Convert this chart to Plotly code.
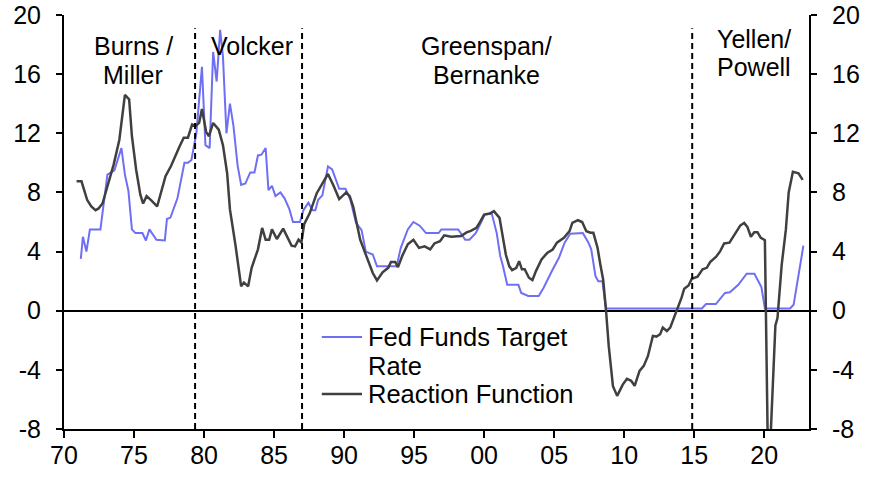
import plotly.graph_objects as go

# Fed funds target rate (decimal years)
ff_year = [1971.2, 1971.35, 1971.6, 1971.85, 1972.6, 1973.1, 1973.6, 1974.1, 1974.35, 1974.6,
           1974.85, 1975.1, 1975.6, 1975.85, 1976.1, 1976.6, 1977.2, 1977.35, 1977.6, 1978.1,
           1978.6, 1978.85, 1979.1, 1979.45, 1979.85, 1980.1, 1980.4, 1980.65, 1980.9, 1981.15,
           1981.35, 1981.6, 1981.85, 1982.1, 1982.4, 1982.65, 1982.95, 1983.3, 1983.6, 1983.85,
           1984.1, 1984.4, 1984.6, 1984.85, 1985.1, 1985.45, 1985.75, 1986.1, 1986.35, 1986.85,
           1987.1, 1987.45, 1987.75, 1987.95, 1988.15, 1988.45, 1988.85, 1989.15, 1989.65, 1990.1,
           1990.45, 1990.85, 1991.25, 1991.55, 1992.05, 1992.35, 1993.75, 1994.05, 1994.55, 1994.95,
           1995.4, 1995.85, 1996.75, 1996.95, 1998.15, 1998.65, 1998.95, 1999.4, 1999.85, 2000.05,
           2000.55, 2000.9, 2001.15, 2001.35, 2001.65, 2002.45, 2002.65, 2003.15, 2003.9, 2004.25,
           2004.85, 2005.35, 2005.75, 2006.15, 2007.05, 2007.45, 2007.65, 2007.95, 2008.15, 2008.45,
           2008.7, 2015.55, 2015.85, 2016.55, 2017.2, 2017.55, 2018.15, 2018.75, 2019.3, 2019.65,
           2019.8, 2020.05, 2021.85, 2022.1, 2022.8]
ff_rate = [3.5, 5.0, 4.0, 5.5, 5.5, 9.2, 9.5, 11.0, 9.2, 8.1,
           5.5, 5.25, 5.25, 4.75, 5.5, 4.8, 4.75, 6.2, 6.3, 7.6,
           10.0, 10.0, 10.2, 12.0, 16.5, 11.2, 11.0, 17.5, 15.5, 19.0,
           17.2, 12.0, 14.0, 12.5, 9.8, 8.5, 8.6, 9.35, 9.35, 10.5,
           10.55, 11.0, 8.15, 8.45, 7.75, 8.0, 7.6, 6.85, 6.0, 6.0,
           6.8, 7.3, 6.8, 6.8, 7.5, 7.8, 9.75, 9.55, 8.25, 8.25,
           7.5, 5.95, 5.45, 4.0, 3.8, 3.0, 3.0, 4.25, 5.5, 6.0,
           5.75, 5.25, 5.25, 5.5, 5.5, 4.8, 4.8, 5.25, 6.1, 6.5,
           6.55, 5.25, 3.7, 3.0, 1.75, 1.75, 1.2, 1.0, 1.0, 1.55,
           2.7, 3.6, 4.6, 5.2, 5.25, 4.6, 4.15, 2.35, 2.0, 2.0,
           0.15, 0.15, 0.45, 0.45, 1.2, 1.25, 1.75, 2.5, 2.5, 1.9,
           1.6, 0.15, 0.15, 0.4, 4.4]

# Reaction function
rf_year = [1970.9, 1971.25, 1971.65, 1971.95, 1972.25, 1972.45, 1972.75, 1973.05, 1973.55, 1973.95,
           1974.35, 1974.65, 1974.85, 1975.15, 1975.45, 1975.65, 1975.9, 1976.25, 1976.65, 1977.25,
           1977.65, 1978.25, 1978.55, 1978.85, 1979.15, 1979.4, 1979.65, 1979.85, 1980.15, 1980.35,
           1980.65, 1981.05, 1981.35, 1981.65, 1981.85, 1982.25, 1982.65, 1982.85, 1983.15, 1983.4,
           1983.85, 1984.15, 1984.4, 1984.65, 1984.85, 1985.2, 1985.65, 1986.25, 1986.5, 1986.75,
           1986.95, 1987.15, 1987.55, 1988.05, 1988.5, 1988.85, 1989.25, 1989.65, 1990.15, 1990.4,
           1990.65, 1990.9, 1991.15, 1991.45, 1991.85, 1992.05, 1992.35, 1992.75, 1993.15, 1993.35,
           1993.65, 1993.85, 1994.15, 1994.55, 1994.95, 1995.35, 1995.75, 1996.15, 1996.45, 1996.85,
           1997.15, 1997.65, 1998.35, 1998.75, 1999.05, 1999.45, 1999.6, 2000.0, 2000.4, 2000.7,
           2001.1, 2001.3, 2001.55, 2001.8, 2002.0, 2002.3, 2002.5, 2002.7, 2002.9, 2003.2,
           2003.45, 2003.7, 2004.1, 2004.5, 2004.9, 2005.2, 2005.7, 2006.1, 2006.3, 2006.7,
           2007.0, 2007.3, 2007.6, 2007.8, 2008.1, 2008.3, 2008.5, 2008.7, 2008.9, 2009.2,
           2009.5, 2009.9, 2010.2, 2010.5, 2010.75, 2011.1, 2011.4, 2011.7, 2012.05, 2012.3,
           2012.57, 2012.76, 2013.05, 2013.29, 2013.57, 2013.88, 2014.1, 2014.29, 2014.6, 2014.83,
           2015.24, 2015.6, 2015.9, 2016.14, 2016.57, 2016.86, 2017.14, 2017.52, 2017.93, 2018.29,
           2018.57, 2018.8, 2019.05, 2019.29, 2019.52, 2019.76, 2020.05, 2020.2, 2020.3, 2020.8,
           2020.95, 2021.25, 2021.55, 2021.75, 2022.05, 2022.45, 2022.75]
rf_rate = [8.75, 8.75, 7.5, 7.05, 6.8, 6.9, 7.25, 8.3, 9.9, 11.55,
           14.6, 14.3, 11.8, 9.55, 7.85, 7.25, 7.75, 7.45, 7.05, 9.1,
           9.8, 11.1, 11.7, 11.7, 12.6, 12.5, 12.7, 13.65, 12.1, 11.8,
           12.7, 12.25, 11.2, 9.3, 6.85, 4.4, 1.65, 1.9, 1.65, 2.9,
           4.15, 5.6, 4.8, 4.8, 5.5, 4.85, 5.55, 4.4, 4.35, 4.8,
           4.6, 5.85, 6.6, 7.95, 8.65, 9.25, 8.45, 7.55, 8.0, 7.75,
           7.05, 5.95, 4.8, 4.05, 3.0, 2.55, 2.05, 2.6, 2.9, 3.3,
           3.3, 2.95, 3.7, 4.5, 4.8, 4.25, 4.35, 4.15, 4.55, 4.7,
           5.1, 5.0, 5.05, 5.3, 5.4, 5.6, 5.83, 6.5, 6.57, 6.73,
           6.28, 5.27, 3.8, 3.0, 2.75, 2.9, 3.35, 2.8, 2.8, 2.23,
           2.07, 2.68, 3.47, 3.9, 4.14, 4.6, 4.93, 5.38, 5.94, 6.12,
           6.0, 5.38, 5.27, 5.27, 4.26, 3.13, 2.11, 0.08, -2.4, -5.1,
           -5.76, -5.0, -4.6, -4.74, -5.08, -4.07, -3.73, -3.06, -1.7, -1.75,
           -1.59, -1.14, -1.37, -1.14, -0.47, 0.32, 0.88, 1.49, 1.71, 2.16,
           2.3, 2.8, 2.9, 3.29, 3.65, 4.03, 4.55, 4.6, 5.27, 5.76,
           5.94, 5.67, 5.0, 5.31, 5.31, 4.93, 4.77, -12.0, -12.0, -1.0,
           -0.5, 3.1, 5.5, 8.0, 9.4, 9.3, 8.85]

x_ticks = [1970, 1975, 1980, 1985, 1990, 1995, 2000, 2005, 2010, 2015, 2020]
x_labels = ["70", "75", "80", "85", "90", "95", "00", "05", "10", "15", "20"]
y_ticks = [-8, -4, 0, 4, 8, 12, 16, 20]
y_labels = ["-8", "-4", "0", "4", "8", "12", "16", "20"]

# chair labels, one entry per text line
chair_text = ["Burns /", "Miller", "Volcker", "Greenspan/", "Bernanke", "Yellen/", "Powell"]
chair_x = [1974.93, 1974.93, 1983.43, 2000.14, 2000.14, 2019.29, 2019.29]
chair_y = [17.9, 15.94, 17.9, 17.9, 15.94, 18.4, 16.5]
chair_breaks = [1979.36, 1987.0, 2014.86]

FONT = "Liberation Sans, Arial, sans-serif"
BLUE = "#6f6ff5"
DARK = "#404040"

fig = go.Figure()
fig.add_trace(go.Scatter(x=ff_year, y=ff_rate, mode="lines", name="Fed Funds Target Rate",
                         line=dict(color=BLUE, width=2)))
fig.add_trace(go.Scatter(x=rf_year, y=rf_rate, mode="lines", name="Reaction Function",
                         line=dict(color=DARK, width=2.5), yaxis="y2"))

for xb in chair_breaks:
    fig.add_shape(type="line", xref="x", yref="y", x0=xb, x1=xb, y0=-8, y1=19.1,
                  line=dict(color="black", width=2, dash="6px,4px"))

for txt, xa, ya in zip(chair_text, chair_x, chair_y):
    fig.add_annotation(x=xa, y=ya, xref="x", yref="y", text=txt, showarrow=False,
                       font=dict(size=25, color="black", family=FONT))

# legend drawn by hand so the keys sit where they do in the original
legend_keys = [(BLUE, 2, 0.222), (DARK, 2.5, 0.0845)]
for col, w, yk in legend_keys:
    fig.add_shape(type="line", xref="paper", yref="paper", x0=0.346, x1=0.400, y0=yk, y1=yk,
                  line=dict(color=col, width=w))
legend_lines = [("Fed Funds Target", 0.222), ("Rate", 0.152), ("Reaction Function", 0.0845)]
for label, yt in legend_lines:
    fig.add_annotation(x=0.406, y=yt, xref="paper", yref="paper", text=label, showarrow=False,
                       xanchor="left", yanchor="middle", align="left",
                       font=dict(size=25.5, color="black", family=FONT))

axis_style = dict(showgrid=False, ticks="outside", tickwidth=2, tickcolor="black",
                  showline=True, linecolor="black", linewidth=2, automargin=False,
                  tickfont=dict(size=25, color="black", family=FONT))

fig.update_layout(
    width=874, height=480,
    margin=dict(l=64, r=65, t=15, b=51),
    plot_bgcolor="white", paper_bgcolor="white",
    font=dict(family=FONT, size=25, color="black"),
    showlegend=False,
    xaxis=dict(range=[1970, 2023.2], tickvals=x_ticks, ticktext=x_labels, ticklen=7,
               zeroline=False, ticklabelstandoff=-4, **axis_style),
    yaxis=dict(range=[-8, 20], tickvals=y_ticks, ticktext=y_labels, ticklen=6, zeroline=True,
               zerolinecolor="black", zerolinewidth=2, ticklabelstandoff=10, **axis_style),
    yaxis2=dict(range=[-8, 20], tickvals=y_ticks, ticktext=y_labels, ticklen=6, overlaying="y",
                side="right", zeroline=False, ticklabelstandoff=10, **axis_style),
)

fig.write_html("out.html", config={"displayModeBar": False},
               post_script="document.body.style.margin='0';")
